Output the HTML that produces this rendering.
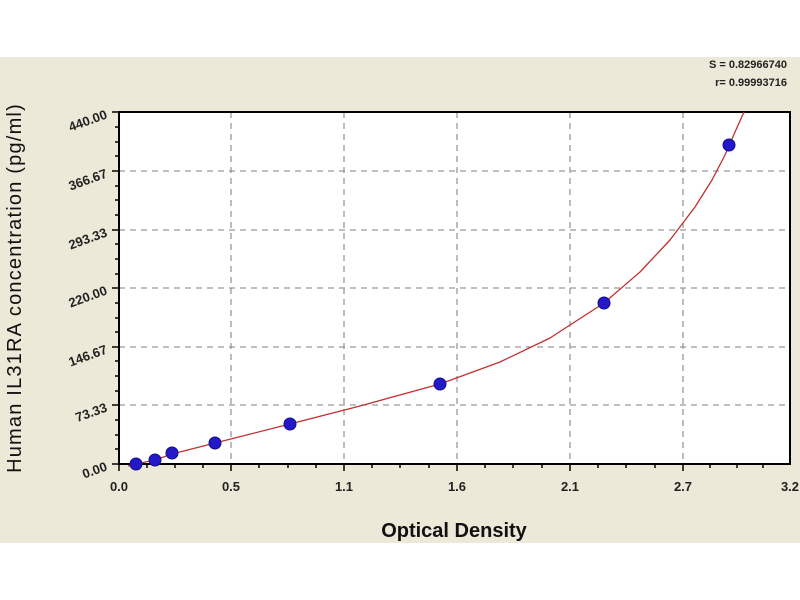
<!DOCTYPE html>
<html><head><style>
html,body{margin:0;padding:0;background:#fff;}
svg{display:block;font-family:"Liberation Sans",sans-serif;}
</style></head><body>
<svg width="800" height="600" viewBox="0 0 800 600">
<rect x="0" y="57" width="800" height="486" fill="#ece9d8"/>
<rect x="119" y="112" width="671" height="352" fill="#fff"/>
<g stroke="#999" stroke-width="1.3" stroke-dasharray="6,5">
<line x1="231" y1="112" x2="231" y2="464"/><line x1="344" y1="112" x2="344" y2="464"/>
<line x1="457" y1="112" x2="457" y2="464"/><line x1="570" y1="112" x2="570" y2="464"/>
<line x1="683" y1="112" x2="683" y2="464"/>
<line x1="119" y1="171" x2="790" y2="171"/><line x1="119" y1="230" x2="790" y2="230"/>
<line x1="119" y1="288" x2="790" y2="288"/><line x1="119" y1="347" x2="790" y2="347"/>
<line x1="119" y1="405" x2="790" y2="405"/>
</g>
<rect x="119" y="112" width="671" height="352" fill="none" stroke="#000" stroke-width="2"/>
<g stroke="#000" stroke-width="1.5">
<line x1="119" y1="464" x2="119" y2="471"/><line x1="147" y1="464" x2="147" y2="468"/><line x1="175" y1="464" x2="175" y2="468"/><line x1="203" y1="464" x2="203" y2="468"/>
<line x1="231" y1="464" x2="231" y2="471"/><line x1="259" y1="464" x2="259" y2="468"/><line x1="288" y1="464" x2="288" y2="468"/><line x1="316" y1="464" x2="316" y2="468"/>
<line x1="344" y1="464" x2="344" y2="471"/><line x1="372" y1="464" x2="372" y2="468"/><line x1="400" y1="464" x2="400" y2="468"/><line x1="429" y1="464" x2="429" y2="468"/>
<line x1="457" y1="464" x2="457" y2="471"/><line x1="485" y1="464" x2="485" y2="468"/><line x1="513" y1="464" x2="513" y2="468"/><line x1="542" y1="464" x2="542" y2="468"/>
<line x1="570" y1="464" x2="570" y2="471"/><line x1="598" y1="464" x2="598" y2="468"/><line x1="626" y1="464" x2="626" y2="468"/><line x1="655" y1="464" x2="655" y2="468"/>
<line x1="683" y1="464" x2="683" y2="471"/><line x1="710" y1="464" x2="710" y2="468"/><line x1="737" y1="464" x2="737" y2="468"/><line x1="763" y1="464" x2="763" y2="468"/>
<line x1="112" y1="464" x2="119" y2="464"/><line x1="112" y1="405" x2="119" y2="405"/><line x1="112" y1="347" x2="119" y2="347"/><line x1="112" y1="288" x2="119" y2="288"/><line x1="112" y1="230" x2="119" y2="230"/><line x1="112" y1="171" x2="119" y2="171"/><line x1="112" y1="112" x2="119" y2="112"/>
<line x1="115" y1="449" x2="119" y2="449"/><line x1="115" y1="435" x2="119" y2="435"/><line x1="115" y1="420" x2="119" y2="420"/>
<line x1="115" y1="391" x2="119" y2="391"/><line x1="115" y1="376" x2="119" y2="376"/><line x1="115" y1="361" x2="119" y2="361"/>
<line x1="115" y1="332" x2="119" y2="332"/><line x1="115" y1="318" x2="119" y2="318"/><line x1="115" y1="303" x2="119" y2="303"/>
<line x1="115" y1="274" x2="119" y2="274"/><line x1="115" y1="259" x2="119" y2="259"/><line x1="115" y1="244" x2="119" y2="244"/>
<line x1="115" y1="215" x2="119" y2="215"/><line x1="115" y1="200" x2="119" y2="200"/><line x1="115" y1="186" x2="119" y2="186"/>
<line x1="115" y1="156" x2="119" y2="156"/><line x1="115" y1="142" x2="119" y2="142"/><line x1="115" y1="127" x2="119" y2="127"/>
</g>
<g font-size="13" font-weight="bold" fill="#222" text-anchor="end">
<text transform="translate(108,470) rotate(-20)">0.00</text>
<text transform="translate(108,411) rotate(-20)">73.33</text>
<text transform="translate(108,353) rotate(-20)">146.67</text>
<text transform="translate(108,294) rotate(-20)">220.00</text>
<text transform="translate(108,236) rotate(-20)">293.33</text>
<text transform="translate(108,177) rotate(-20)">366.67</text>
<text transform="translate(108,118) rotate(-20)">440.00</text>
</g>
<g font-size="13" font-weight="bold" fill="#222" text-anchor="middle">
<text x="119" y="491">0.0</text><text x="231" y="491">0.5</text><text x="344" y="491">1.1</text>
<text x="457" y="491">1.6</text><text x="570" y="491">2.1</text><text x="683" y="491">2.7</text><text x="790" y="491">3.2</text>
</g>
<text x="454" y="537" font-size="20" font-weight="bold" text-anchor="middle" fill="#111">Optical Density</text>
<text transform="translate(21,288) rotate(-90)" font-size="20" letter-spacing="1.2" text-anchor="middle" fill="#111">Human IL31RA concentration (pg/ml)</text>
<text x="787" y="68" font-size="11" font-weight="bold" text-anchor="end" fill="#222">S = 0.82966740</text>
<text x="787" y="86" font-size="11" font-weight="bold" text-anchor="end" fill="#222">r= 0.99993716</text>
<path d="M128,466 L136,464 L155,460 L172,454 L215,443 L290,424 L360,406 L440,384 L500,362 L550,338 L604,303 L640,272 L670,240 L695,207 L712,180 L725,155 L735,132 L744,112" fill="none" stroke="#c03030" stroke-width="1.3" stroke-linejoin="round"/>
<g fill="#2418c8" stroke="#10108a" stroke-width="1">
<circle cx="136" cy="464" r="6"/><circle cx="155" cy="460" r="6"/><circle cx="172" cy="453" r="6"/>
<circle cx="215" cy="443" r="6"/><circle cx="290" cy="424" r="6"/><circle cx="440" cy="384" r="6"/>
<circle cx="604" cy="303" r="6"/><circle cx="729" cy="145" r="6"/>
</g>
</svg>
</body></html>
